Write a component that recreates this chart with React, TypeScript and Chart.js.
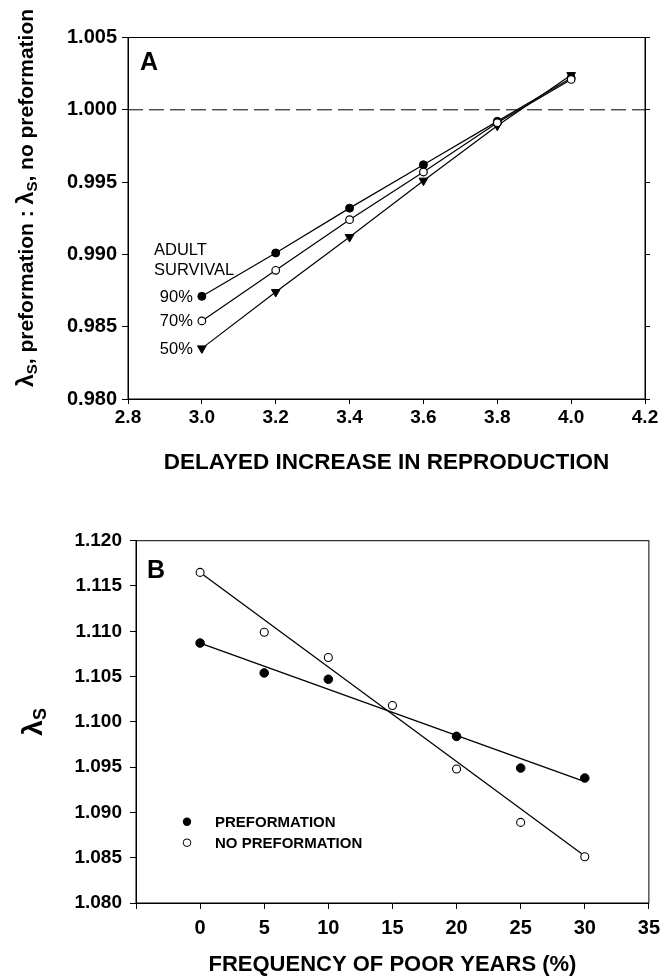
import React, { useEffect, useRef } from 'react';
import { Chart, registerables } from 'chart.js';

Chart.register(...registerables);

// ---------- Panel A data ----------
const A_X = [3.0, 3.2, 3.4, 3.6, 3.8, 4.0];
const A_S90 = [0.9871, 0.9901, 0.9932, 0.9962, 0.9992, 1.0022];
const A_S70 = [0.9854, 0.9889, 0.9924, 0.9957, 0.9991, 1.0021];
const A_S50 = [0.9835, 0.9874, 0.9912, 0.9951, 0.9989, 1.0024];
const A_SERIES_LABELS = ['90%', '70%', '50%'];
const A_NOTE = ['ADULT', 'SURVIVAL'];
const A_REF_Y = 1.0;
const A_X_MIN = 2.8;
const A_X_MAX = 4.2;
const A_X_STEP = 0.2;
const A_Y_MIN = 0.98;
const A_Y_MAX = 1.005;
const A_Y_STEP = 0.005;

// ---------- Panel B data ----------
const B_X_PRE = [0, 5, 10, 20, 25, 30];
const B_Y_PRE = [1.1087, 1.1054, 1.1047, 1.0984, 1.0949, 1.0938];
const B_X_NOPRE = [0, 5, 10, 15, 20, 25, 30];
const B_Y_NOPRE = [1.1165, 1.1099, 1.1071, 1.1018, 1.0948, 1.0889, 1.0851];
const B_FIT_X = [0, 30];
const B_FIT_PRE = [1.1087, 1.0934];
const B_FIT_NOPRE = [1.1165, 1.0852];
const B_LEGEND = ['PREFORMATION', 'NO PREFORMATION'];
const B_X_MIN = -5;
const B_X_MAX = 35;
const B_X_STEP = 5;
const B_Y_MIN = 1.08;
const B_Y_MAX = 1.12;
const B_Y_STEP = 0.005;

const FONT = "'Liberation Sans', Arial, Helvetica, sans-serif";

const pts = (xs: number[], ys: number[]) => xs.map((x, i) => ({ x, y: ys[i] }));

type Part = { t: string; size: number; drop?: number };

function drawRotatedRich(ctx: CanvasRenderingContext2D, parts: Part[], cx: number, cy: number, baseOff: number) {
  ctx.save();
  ctx.translate(cx, cy);
  ctx.rotate(-Math.PI / 2);
  ctx.fillStyle = '#000';
  ctx.textBaseline = 'alphabetic';
  ctx.textAlign = 'left';
  let total = 0;
  const widths = parts.map((p) => {
    ctx.font = `bold ${p.size}px ${FONT}`;
    const w = ctx.measureText(p.t).width;
    total += w;
    return w;
  });
  let x = -total / 2;
  parts.forEach((p, i) => {
    ctx.font = `bold ${p.size}px ${FONT}`;
    ctx.fillText(p.t, x, baseOff + (p.drop || 0));
    x += widths[i];
  });
  ctx.restore();
}

const framePlugin = {
  id: 'frame',
  afterDatasetsDraw(chart: any) {
    const { ctx, chartArea: a } = chart;
    ctx.save();
    ctx.strokeStyle = '#000';
    ctx.lineWidth = 1;
    ctx.strokeRect(a.left, a.top, a.right - a.left, a.bottom - a.top);
    ctx.restore();
  },
};

const panelAPlugin = {
  id: 'panelA',
  afterDraw(chart: any) {
    const { ctx, chartArea: a, scales } = chart;
    ctx.save();
    ctx.fillStyle = '#000';
    ctx.font = `bold 25px ${FONT}`;
    ctx.textBaseline = 'middle';
    ctx.textAlign = 'left';
    ctx.fillText('A', a.left + 12, a.top + 26);

    const px = scales.x.getPixelForValue(A_X[0]);
    const ys = [A_S90[0], A_S70[0], A_S50[0]].map((v) => scales.y.getPixelForValue(v));
    ctx.font = `16.5px ${FONT}`;
    ctx.textAlign = 'right';
    A_SERIES_LABELS.forEach((l, i) => ctx.fillText(l, px - 9, ys[i] + 1));
    ctx.textAlign = 'left';
    ctx.fillText(A_NOTE[0], a.left + 26, ys[0] - 46);
    ctx.fillText(A_NOTE[1], a.left + 26, ys[0] - 26);

    drawRotatedRich(
      ctx,
      [
        { t: 'λ', size: 23 },
        { t: 'S', size: 15, drop: 4 },
        { t: ', preformation : ', size: 21 },
        { t: 'λ', size: 23 },
        { t: 'S', size: 15, drop: 4 },
        { t: ', no preformation', size: 21 },
      ],
      25,
      198,
      8
    );
    ctx.restore();
  },
};

const panelBPlugin = {
  id: 'panelB',
  afterDraw(chart: any) {
    const { ctx, chartArea: a } = chart;
    ctx.save();
    ctx.fillStyle = '#000';
    ctx.font = `bold 25px ${FONT}`;
    ctx.textBaseline = 'middle';
    ctx.textAlign = 'left';
    ctx.fillText('B', a.left + 11, a.top + 30);

    // legend
    const lx = a.left + 51;
    const ly1 = a.top + 281;
    const ly2 = a.top + 302;
    ctx.beginPath();
    ctx.arc(lx, ly1, 4.2, 0, Math.PI * 2);
    ctx.fill();
    ctx.beginPath();
    ctx.arc(lx, ly2, 3.8, 0, Math.PI * 2);
    ctx.fillStyle = '#fff';
    ctx.fill();
    ctx.strokeStyle = '#000';
    ctx.lineWidth = 1;
    ctx.stroke();
    ctx.fillStyle = '#000';
    ctx.font = `bold 15px ${FONT}`;
    ctx.fillText(B_LEGEND[0], a.left + 79, ly1 + 1);
    ctx.fillText(B_LEGEND[1], a.left + 79, ly2 + 1);

    drawRotatedRich(
      ctx,
      [
        { t: 'λ', size: 28 },
        { t: 'S', size: 18, drop: 4 },
      ],
      33,
      (a.top + a.bottom) / 2,
      9
    );
    ctx.restore();
  },
};

const tickFont = (size: number) => ({ family: FONT, size, weight: 'bold' as const });

function PanelA() {
  const ref = useRef<HTMLCanvasElement>(null);
  useEffect(() => {
    const chart = new Chart(ref.current!, {
      type: 'line',
      data: {
        datasets: [
          {
            data: pts([A_X_MIN, A_X_MAX], [A_REF_Y, A_REF_Y]),
            borderColor: '#000',
            borderWidth: 1,
            borderDash: [15, 6],
            pointRadius: 0,
            order: 5,
          },
          {
            data: pts(A_X, A_S90),
            borderColor: '#000',
            borderWidth: 1.2,
            pointStyle: 'circle',
            pointRadius: 4,
            pointBackgroundColor: '#000',
            pointBorderColor: '#000',
            pointBorderWidth: 1,
            order: 3,
          },
          {
            data: pts(A_X, A_S50),
            borderColor: '#000',
            borderWidth: 1.2,
            pointStyle: 'triangle',
            pointRotation: 180,
            pointRadius: 5,
            pointBackgroundColor: '#000',
            pointBorderColor: '#000',
            pointBorderWidth: 1,
            order: 2,
          },
          {
            data: pts(A_X, A_S70),
            borderColor: '#000',
            borderWidth: 1.2,
            pointStyle: 'circle',
            pointRadius: 3.8,
            pointBackgroundColor: '#fff',
            pointBorderColor: '#000',
            pointBorderWidth: 1.2,
            order: 1,
          },
        ],
      },
      options: {
        responsive: false,
        animation: false,
        layout: { padding: { top: 37.5, left: 0, right: 0, bottom: 0 } },
        plugins: { legend: { display: false }, tooltip: { enabled: false } },
        scales: {
          x: {
            type: 'linear',
            min: A_X_MIN,
            max: A_X_MAX,
            ticks: {
              stepSize: A_X_STEP,
              callback: (v: any) => Number(v).toFixed(1),
              font: tickFont(19),
              color: '#000',
              padding: 2,
              maxRotation: 0,
              autoSkip: false,
            },
            grid: { drawOnChartArea: false, tickLength: 5, color: '#000' },
            border: { display: true, color: '#000', width: 1 },
            title: {
              display: true,
              text: 'DELAYED INCREASE IN REPRODUCTION',
              font: tickFont(22.5),
              color: '#000',
              padding: { top: 0, bottom: 4 },
            },
            afterFit: (s: any) => {
              s.height = 81;
            },
          },
          y: {
            type: 'linear',
            position: 'left',
            min: A_Y_MIN,
            max: A_Y_MAX,
            ticks: {
              stepSize: A_Y_STEP,
              callback: (v: any) => Number(v).toFixed(3),
              font: tickFont(20),
              color: '#000',
              padding: 5,
            },
            grid: { drawOnChartArea: false, tickLength: 6, color: '#000' },
            border: { display: true, color: '#000', width: 1 },
            afterFit: (s: any) => {
              s.width = 128;
            },
          },
          yr: {
            type: 'linear',
            position: 'right',
            min: A_Y_MIN,
            max: A_Y_MAX,
            ticks: { stepSize: A_Y_STEP, display: false },
            grid: { drawOnChartArea: false, tickLength: 5, color: '#000' },
            border: { display: true, color: '#000', width: 1 },
            afterFit: (s: any) => {
              s.width = 22;
            },
          },
        },
      } as any,
      plugins: [framePlugin, panelAPlugin],
    });
    return () => chart.destroy();
  }, []);
  return (
    <canvas
      ref={ref}
      width={667}
      height={480}
      style={{ position: 'absolute', left: 0, top: 0, width: 667, height: 480, display: 'block' }}
    />
  );
}

function PanelB() {
  const ref = useRef<HTMLCanvasElement>(null);
  useEffect(() => {
    const chart = new Chart(ref.current!, {
      type: 'scatter',
      data: {
        datasets: [
          {
            data: pts(B_X_PRE, B_Y_PRE),
            pointStyle: 'circle',
            pointRadius: 4.3,
            pointBackgroundColor: '#000',
            pointBorderColor: '#000',
            pointBorderWidth: 1,
            showLine: false,
            order: 0,
          },
          {
            data: pts(B_X_NOPRE, B_Y_NOPRE),
            pointStyle: 'circle',
            pointRadius: 4,
            pointBackgroundColor: '#fff',
            pointBorderColor: '#000',
            pointBorderWidth: 1.1,
            showLine: false,
            order: 0,
          },
          {
            data: pts(B_FIT_X, B_FIT_PRE),
            borderColor: '#000',
            borderWidth: 1.3,
            pointRadius: 0,
            showLine: true,
            order: 2,
          },
          {
            data: pts(B_FIT_X, B_FIT_NOPRE),
            borderColor: '#000',
            borderWidth: 1.3,
            pointRadius: 0,
            showLine: true,
            order: 2,
          },
        ],
      },
      options: {
        responsive: false,
        animation: false,
        layout: { padding: { top: 60.7, left: 0, right: 14, bottom: 0 } },
        plugins: { legend: { display: false }, tooltip: { enabled: false } },
        scales: {
          x: {
            type: 'linear',
            min: B_X_MIN,
            max: B_X_MAX,
            ticks: {
              stepSize: B_X_STEP,
              callback: (v: any) => (Number(v) < 0 ? '' : String(v)),
              font: tickFont(20),
              color: '#000',
              padding: 7,
              maxRotation: 0,
              autoSkip: false,
            },
            grid: { drawOnChartArea: false, tickLength: 6, color: '#000' },
            border: { display: true, color: '#000', width: 1 },
            title: {
              display: true,
              text: 'FREQUENCY OF POOR YEARS (%)',
              font: tickFont(22),
              color: '#000',
              padding: { top: 0, bottom: 0 },
            },
            afterFit: (s: any) => {
              s.height = 75;
            },
          },
          y: {
            type: 'linear',
            position: 'left',
            min: B_Y_MIN,
            max: B_Y_MAX,
            ticks: {
              stepSize: B_Y_STEP,
              callback: (v: any) => Number(v).toFixed(3),
              font: tickFont(19),
              color: '#000',
              padding: 8,
            },
            grid: { drawOnChartArea: false, tickLength: 6, color: '#000' },
            border: { display: true, color: '#000', width: 1 },
            afterFit: (s: any) => {
              s.width = 136;
            },
          },
        },
      } as any,
      plugins: [framePlugin, panelBPlugin],
    });
    return () => chart.destroy();
  }, []);
  return (
    <canvas
      ref={ref}
      width={667}
      height={498}
      style={{ position: 'absolute', left: 0, top: 480, width: 667, height: 498, display: 'block' }}
    />
  );
}

export default function App() {
  return (
    <div style={{ position: 'absolute', left: 0, top: 0, width: 667, height: 978, background: '#fff' }}>
      <PanelA />
      <PanelB />
    </div>
  );
}
